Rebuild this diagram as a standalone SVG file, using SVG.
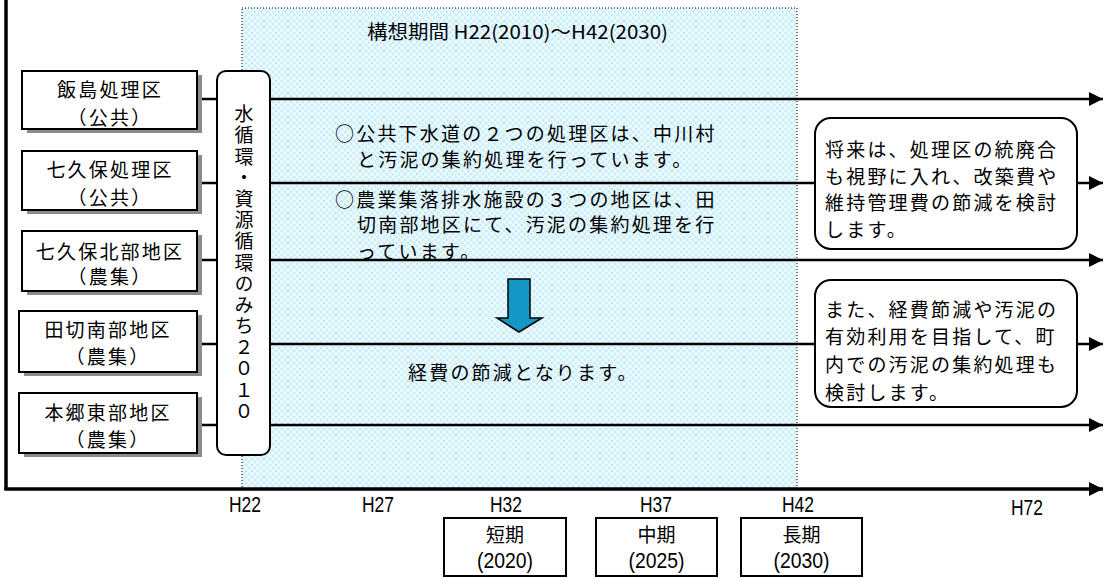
<svg xmlns="http://www.w3.org/2000/svg" width="1105" height="578" viewBox="0 0 1105 578">
<defs>
<pattern id="lattice" width="6" height="6" patternUnits="userSpaceOnUse">
<rect width="6" height="6" fill="#c8eefa"/>
<path d="M0,0 L6,6 M6,0 L0,6" stroke="#ffffff" stroke-width="1.2" opacity="0.85"/>
</pattern>
<marker id="arr" viewBox="0 0 10 10" refX="10" refY="5" markerWidth="15" markerHeight="14" markerUnits="userSpaceOnUse" orient="auto">
<path d="M0,0 L10,5 L0,10 Z" fill="#000"/>
</marker>
</defs>
<style>
.jp{font-family:"Noto Sans CJK JP","Noto Sans CJK SC",sans-serif;font-size:19px;fill:#000;letter-spacing:2.2px}
.lat{font-family:"Liberation Sans","Noto Sans",sans-serif;font-size:22px;fill:#000}
.box{fill:#fff;stroke:#000;stroke-width:2}
.shadow{fill:#8c8c8c}
.ln{stroke:#000;stroke-width:2.5;fill:none}
.rbox{fill:#fff;stroke:#000;stroke-width:2}
</style>
<rect width="1105" height="578" fill="#fff"/>
<g id="period">
<rect x="242" y="8" width="555" height="481" fill="url(#lattice)" stroke="#000" stroke-width="1" stroke-dasharray="1,2"/>
<text class="jp" x="367" y="39" style="font-size:19px;letter-spacing:0" textLength="301" lengthAdjust="spacingAndGlyphs">構想期間 H22(2010)～H42(2030)</text>
</g>
<g id="axes">
<line x1="6" y1="0" x2="6" y2="489" stroke="#000" stroke-width="3.5"/>
<line x1="4.25" y1="489" x2="1103" y2="489" stroke="#000" stroke-width="3.5" marker-end="url(#arr)"/>
</g>
<g id="connectors">
<line class="ln" x1="197" y1="99" x2="217" y2="99"/>
<line class="ln" x1="197" y1="183" x2="217" y2="183"/>
<line class="ln" x1="197" y1="260" x2="217" y2="260"/>
<line class="ln" x1="197" y1="344" x2="217" y2="344"/>
<line class="ln" x1="197" y1="425" x2="217" y2="425"/>
<line class="ln" x1="270" y1="99" x2="1103" y2="99" marker-end="url(#arr)"/>
<line class="ln" x1="270" y1="183" x2="1103" y2="183" marker-end="url(#arr)"/>
<line class="ln" x1="270" y1="260" x2="1103" y2="260" marker-end="url(#arr)"/>
<line class="ln" x1="270" y1="344" x2="1103" y2="344" marker-end="url(#arr)"/>
<line class="ln" x1="270" y1="425" x2="1103" y2="425" marker-end="url(#arr)"/>
</g>
<g id="n-iijima">
<rect class="shadow" x="27" y="75" width="175" height="58"/>
<rect class="box" x="22" y="71" width="175" height="58"/>
<text class="jp" x="110" y="97" text-anchor="middle">飯島処理区</text>
<text class="jp" x="110" y="125" text-anchor="middle">（公共）</text>
</g>
<g id="n-shichikubo">
<rect class="shadow" x="27" y="155" width="175" height="59"/>
<rect class="box" x="22" y="151" width="175" height="59"/>
<text class="jp" x="110" y="177" text-anchor="middle">七久保処理区</text>
<text class="jp" x="110" y="205" text-anchor="middle">（公共）</text>
</g>
<g id="n-shichikubo-north">
<rect class="shadow" x="27" y="235" width="175" height="60"/>
<rect class="box" x="22" y="231" width="175" height="60"/>
<text class="jp" x="110" y="259" text-anchor="middle">七久保北部地区</text>
<text class="jp" x="110" y="284" text-anchor="middle">（農集）</text>
</g>
<g id="n-tagiri-south">
<rect class="shadow" x="24" y="315" width="178" height="61"/>
<rect class="box" x="19" y="311" width="178" height="61"/>
<text class="jp" x="108" y="337" text-anchor="middle">田切南部地区</text>
<text class="jp" x="108" y="364" text-anchor="middle">（農集）</text>
</g>
<g id="n-hongo-east">
<rect class="shadow" x="24" y="397" width="178" height="60"/>
<rect class="box" x="19" y="393" width="178" height="60"/>
<text class="jp" x="108" y="420" text-anchor="middle">本郷東部地区</text>
<text class="jp" x="108" y="447" text-anchor="middle">（農集）</text>
</g>
<g id="n-michi">
<rect class="box" x="217" y="71" width="53" height="384" rx="9"/>
<text class="jp" x="244" y="104.5" writing-mode="vertical-rl" style="writing-mode:vertical-rl">水循環・資源循環のみち２０１０</text>
</g>
<g id="n-notes">
<text class="jp" x="335" y="141">○公共下水道の２つの処理区は、中川村</text>
<text class="jp" x="357" y="167">と汚泥の集約処理を行っています。</text>
<text class="jp" x="335" y="207">○農業集落排水施設の３つの地区は、田</text>
<text class="jp" x="357" y="232">切南部地区にて、汚泥の集約処理を行</text>
<text class="jp" x="357" y="259">っています。</text>
</g>
<g id="n-downarrow">
<path d="M508,279 L530,279 L530,318 L542,318 L519,332 L497,318 L508,318 Z" fill="#1497c4" stroke="#000" stroke-width="1.5"/>
</g>
<g id="n-result">
<text class="jp" x="408" y="380">経費の節減となります。</text>
</g>
<g id="n-future1">
<rect class="rbox" x="815" y="118" width="262" height="131" rx="16"/>
<text class="jp" x="825" y="157">将来は、処理区の統廃合</text>
<text class="jp" x="825" y="184">も視野に入れ、改築費や</text>
<text class="jp" x="825" y="210">維持管理費の節減を検討</text>
<text class="jp" x="825" y="237">します。</text>
</g>
<g id="n-future2">
<rect class="rbox" x="815" y="280" width="262" height="127" rx="16"/>
<text class="jp" x="825" y="317">また、経費節減や汚泥の</text>
<text class="jp" x="825" y="344">有効利用を目指して、町</text>
<text class="jp" x="825" y="372">内での汚泥の集約処理も</text>
<text class="jp" x="825" y="400">検討します。</text>
</g>
<g id="axis-labels">
<text class="lat" x="229" y="512" textLength="32" lengthAdjust="spacingAndGlyphs">H22</text>
<text class="lat" x="362" y="512" textLength="32" lengthAdjust="spacingAndGlyphs">H27</text>
<text class="lat" x="490" y="512" textLength="32" lengthAdjust="spacingAndGlyphs">H32</text>
<text class="lat" x="640" y="512" textLength="32" lengthAdjust="spacingAndGlyphs">H37</text>
<text class="lat" x="782" y="512" textLength="32" lengthAdjust="spacingAndGlyphs">H42</text>
<text class="lat" x="1011" y="515" textLength="32" lengthAdjust="spacingAndGlyphs">H72</text>
</g>
<g id="n-short">
<rect class="box" x="444" y="518" width="122" height="58"/>
<text class="jp" x="505" y="542" text-anchor="middle" style="letter-spacing:0">短期</text>
<text class="lat" x="477" y="568" textLength="56" lengthAdjust="spacingAndGlyphs">(2020)</text>
</g>
<g id="n-mid">
<rect class="box" x="596" y="518" width="121" height="58"/>
<text class="jp" x="656.5" y="542" text-anchor="middle" style="letter-spacing:0">中期</text>
<text class="lat" x="628.5" y="568" textLength="56" lengthAdjust="spacingAndGlyphs">(2025)</text>
</g>
<g id="n-long">
<rect class="box" x="741" y="518" width="121" height="58"/>
<text class="jp" x="801.5" y="542" text-anchor="middle" style="letter-spacing:0">長期</text>
<text class="lat" x="773.5" y="568" textLength="56" lengthAdjust="spacingAndGlyphs">(2030)</text>
</g>
</svg>
